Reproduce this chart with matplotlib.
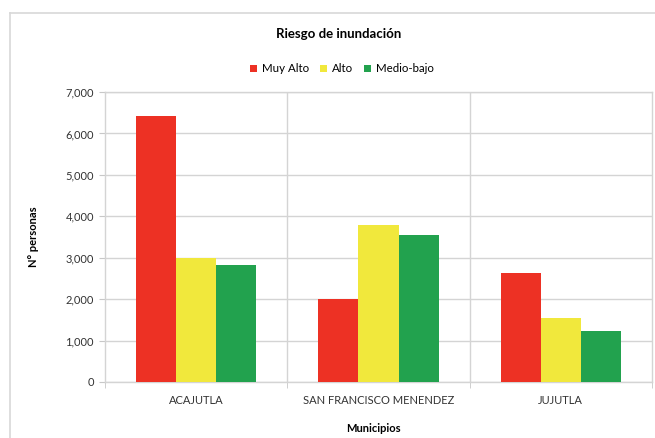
import numpy as np
import matplotlib.pyplot as plt
from matplotlib.lines import Line2D

plt.rcParams['font.family'] = ['Lato', 'DejaVu Sans']

# Personas en riesgo de inundación por municipio
municipios = ['ACAJUTLA', 'SAN FRANCISCO MENENDEZ', 'JUJUTLA']
niveles = ['Muy Alto', 'Alto', 'Medio-bajo']
muy_alto = [6420, 2010, 2640]
alto = [3000, 3800, 1550]
medio_bajo = [2830, 3560, 1230]
colores = ['#ED3124', '#F1E83C', '#22A24E']

fig = plt.figure(figsize=(6.55, 4.38), dpi=100)
ax = fig.add_axes([105 / 655, 1 - 382 / 438, 547 / 655, 290 / 438])

x = np.arange(len(municipios))
w = 0.22
for i, (serie, col, lab) in enumerate(zip([muy_alto, alto, medio_bajo], colores, niveles)):
    ax.bar(x + (i - 1) * w, serie, width=w, color=col, label=lab, zorder=3)

ax.set_xlim(-0.5, 2.5)
ax.set_ylim(0, 7000)
ax.set_yticks(np.arange(0, 7001, 1000))
ax.set_yticklabels([f'{v:,}' for v in range(0, 7001, 1000)], fontsize=8, color='#333333')
ax.set_xticks(x)
ax.set_xticklabels(municipios, fontsize=8, color='#333333')
ax.tick_params(axis='x', length=0, pad=9)
ax.tick_params(axis='y', length=4, color='#c8c8c8', pad=4)

# separadores entre categorías y rejilla horizontal
ax.set_xticks([-0.5, 0.5, 1.5, 2.5], minor=True)
ax.tick_params(axis='x', which='minor', length=4, color='#c8c8c8')
ax.grid(axis='y', color='#d4d4d4', linewidth=1, zorder=0)
for xb in [0.5, 1.5]:
    ax.axvline(xb, color='#d4d4d4', linewidth=1, zorder=0)
for s in ax.spines.values():
    s.set_color('#d4d4d4')
    s.set_linewidth(1)

ax.set_ylabel('N° personas', fontsize=8, fontweight='bold')
ax.yaxis.set_label_coords(-66 / 547, 0.5)
ax.set_xlabel('Municipios', fontsize=8, fontweight='bold')
ax.xaxis.set_label_coords(0.49, -41 / 290)

fig.text(339 / 655, 1 - 34 / 438, 'Riesgo de inundación', ha='center', va='center',
         fontsize=9.5, fontweight='bold')
fig.legend(loc='center', bbox_to_anchor=(342 / 655, 1 - 69 / 438), ncol=3, frameon=False,
           fontsize=8.3, handlelength=0.6, handleheight=0.6, handletextpad=0.4,
           columnspacing=1.0)

# marco exterior del gráfico
fig.add_artist(Line2D([10 / 655, 10 / 655], [0, 1 - 13 / 438], transform=fig.transFigure,
                      color='#d8d8d8', linewidth=1.2))
fig.add_artist(Line2D([10 / 655, 1], [1 - 13 / 438, 1 - 13 / 438], transform=fig.transFigure,
                      color='#d8d8d8', linewidth=1.2))

fig.savefig('out.png', dpi=100)
